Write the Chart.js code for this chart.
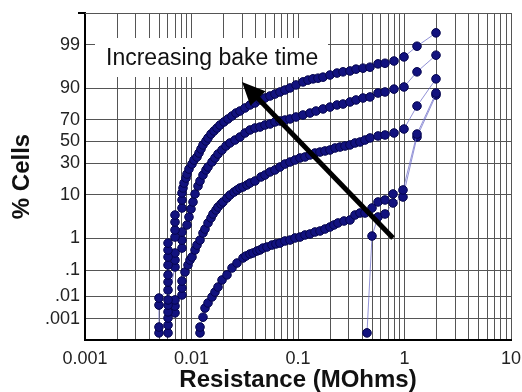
<!DOCTYPE html>
<html>
<head>
<meta charset="utf-8">
<script src="https://cdn.jsdelivr.net/npm/chart.js@4.4.1/dist/chart.umd.min.js"></script>
<style>
html, body { margin: 0; padding: 0; background: #fff; }
#wrap { width: 522px; height: 392px; }
</style>
</head>
<body>
<div id="wrap"><canvas id="c"></canvas></div>
<script>
// [resistance MOhms, cumulative % cells], one list per bake time
const bake1 = [
    [0.00495, 0.00021], [0.00495, 0.00041], [0.00495, 0.0042], [0.00495, 0.0084],
    [0.00602, 0.0178], [0.00602, 0.0366], [0.00602, 0.067], [0.00602, 0.149], [0.00602, 0.275], [0.00602, 0.455], [0.00602, 0.73],
    [0.0070, 1.08], [0.0070, 1.67], [0.0070, 2.65], [0.0070, 3.86],
    [0.00814, 5.49], [0.00814, 7.99], [0.00814, 10.8],
    [0.00832, 13.2], [0.00851, 15.9], [0.00888, 19.0], [0.00907, 21.7], [0.00947, 25.4], [0.01011, 29.4],
    [0.01056, 32.8], [0.01126, 35.5], [0.01176, 39.1], [0.01228, 42.9], [0.01282, 46.7], [0.01368, 50.5],
    [0.01429, 53.4], [0.01524, 57.1], [0.01627, 60.0], [0.01736, 62.7], [0.01852, 65.4], [0.02019, 68.1],
    [0.02202, 70.6], [0.02401, 73.0], [0.02617, 75.3], [0.02853, 76.8], [0.03179, 79.0], [0.03541, 81.0],
    [0.03947, 82.3], [0.04396, 84.1], [0.04898, 85.2], [0.05458, 86.3], [0.06081, 87.3], [0.06776, 88.3],
    [0.07548, 89.2], [0.08411, 90.1], [0.09578, 91.3], [0.1114, 92.4], [0.1241, 93.0], [0.1383, 93.4],
    [0.1541, 93.6], [0.1717, 93.9], [0.1997, 94.5], [0.2323, 95.0], [0.2646, 95.3], [0.3078, 95.5],
    [0.3505, 95.9], [0.4077, 96.1], [0.4744, 96.3], [0.5638, 96.9], [0.6559, 97.0], [0.7969, 97.35],
    [0.9892, 97.9], [1.31, 98.9], [1.976, 99.55]
];
const bake2 = [
    [0.00602, 0.00021], [0.00602, 0.00051], [0.00602, 0.0011], [0.00602, 0.0021], [0.00602, 0.0042], [0.00602, 0.0070],
    [0.0070, 0.128], [0.0070, 0.219], [0.0070, 0.368],
    [0.00814, 0.52], [0.00814, 0.89], [0.00814, 1.48],
    [0.00907, 2.24], [0.00947, 3.48], [0.00989, 5.23], [0.01033, 7.30], [0.01079, 10.35], [0.01151, 14.2],
    [0.01202, 17.1], [0.01282, 21.0], [0.01368, 24.7], [0.01429, 27.0], [0.01558, 31.1], [0.01662, 34.6],
    [0.01774, 38.2], [0.01934, 41.9], [0.02108, 45.7], [0.02299, 48.6], [0.02561, 51.4], [0.02853, 54.3],
    [0.03179, 58.1], [0.03541, 60.9], [0.03947, 62.7], [0.04396, 63.6], [0.04898, 65.4], [0.05458, 66.3],
    [0.06081, 68.1], [0.06776, 68.9], [0.07548, 69.7], [0.08411, 70.6], [0.09578, 72.2], [0.1114, 73.8],
    [0.1296, 75.3], [0.1476, 76.8], [0.1717, 78.3], [0.1997, 79.6], [0.2323, 81.0], [0.2646, 81.6],
    [0.3078, 82.9], [0.3505, 84.1], [0.4077, 85.2], [0.4744, 85.8], [0.5638, 87.8], [0.6559, 88.3],
    [0.7969, 89.6], [0.9892, 90.5], [1.31, 95.3], [1.976, 98.1]
];
const bake3 = [
    [0.0070, 0.0019], [0.0070, 0.0038], [0.0070, 0.0070], [0.00814, 0.0112], [0.00814, 0.0214], [0.00814, 0.040],
    [0.00869, 0.085], [0.00927, 0.149], [0.00968, 0.219], [0.01011, 0.275], [0.01079, 0.455], [0.01126, 0.64],
    [0.01202, 0.89], [0.01282, 1.39], [0.01339, 1.77], [0.01429, 2.51], [0.01524, 3.30], [0.01592, 4.07],
    [0.01699, 4.98], [0.01774, 5.76], [0.01893, 6.66], [0.01976, 7.30], [0.02154, 8.72], [0.02299, 9.92],
    [0.02507, 11.2], [0.02675, 12.2], [0.02853, 13.2], [0.03045, 13.7], [0.03319, 14.8], [0.03541, 15.9],
    [0.03947, 17.1], [0.04493, 19.7], [0.04898, 21.0], [0.05458, 23.2], [0.06081, 24.7], [0.06776, 27.0],
    [0.07548, 29.4], [0.08411, 31.1], [0.09372, 32.8], [0.1044, 34.6], [0.1163, 35.5], [0.1296, 37.3],
    [0.1444, 39.1], [0.1609, 40.0], [0.1793, 41.0], [0.1997, 41.9], [0.2225, 43.8], [0.2479, 44.7],
    [0.2763, 45.7], [0.3078, 46.7], [0.3430, 48.6], [0.3822, 49.5], [0.4257, 51.4], [0.4744, 53.4],
    [0.5638, 55.3], [0.6559, 56.2], [0.7969, 58.1], [0.9892, 61.8], [1.31, 80.3], [1.976, 93.4]
];
const bake4 = [
    [0.01202, 0.00021], [0.01202, 0.00041], [0.01282, 0.0012], [0.01339, 0.0031], [0.01429, 0.0052], [0.01558, 0.0093],
    [0.01662, 0.0148], [0.01774, 0.0234], [0.01934, 0.0436], [0.02154, 0.067], [0.02401, 0.118], [0.02675, 0.174],
    [0.03045, 0.255], [0.03248, 0.296], [0.03541, 0.343], [0.0378, 0.368], [0.04121, 0.424], [0.04396, 0.455],
    [0.04691, 0.52], [0.05114, 0.56], [0.05699, 0.64], [0.06213, 0.69], [0.06776, 0.73], [0.07548, 0.84],
    [0.08411, 0.89], [0.09372, 1.02], [0.1044, 1.08], [0.1163, 1.23], [0.1296, 1.31], [0.1444, 1.48],
    [0.1609, 1.57], [0.1793, 1.77], [0.1997, 1.99], [0.2178, 2.24], [0.2374, 2.51], [0.2704, 2.80],
    [0.3078, 2.96], [0.343, 3.86], [0.3822, 4.28], [0.4257, 4.28], [0.4953, 5.49], [0.5638, 7.30],
    [0.6559, 7.99], [0.7798, 10.35], [0.9681, 12.2], [1.31, 57.1], [1.976, 87.8]
];
const bake5 = [
    [0.4444, 0.00021], [0.4953, 1.15], [0.5638, 3.48], [0.6559, 4.07], [0.7798, 6.97], [0.9681, 9.11],
    [1.31, 54.3], [1.976, 86.8]
];
const allSeries = [bake1, bake2, bake3, bake4, bake5];

const xDecades = [0.001, 0.01, 0.1, 1, 10];
const xDecadeText = ['0.001', '0.01', '0.1', '1', '10'];
const yTickPct = [0.001, 0.01, 0.1, 1, 10, 30, 50, 70, 90, 99];
const yTickText = ['.001', '.01', '.1', '1', '10', '30', '50', '70', '90', '99'];

const arrowTail = [0.78, 1.02];
const arrowTip = [0.0298, 92.4];
const noteText = 'Increasing bake time';

// normal quantile (Acklam) -> probability axis
function probit(p) {
    const a = [-3.969683028665376e+01, 2.209460984245205e+02, -2.759285104469687e+02, 1.383577518672690e+02, -3.066479806614716e+01, 2.506628277459239e+00];
    const b = [-5.447609879822406e+01, 1.615858368580409e+02, -1.556989798598866e+02, 6.680131188771972e+01, -1.328068155288572e+01];
    const c = [-7.784894002430293e-03, -3.223964580411365e-01, -2.400758277161838e+00, -2.549732539343734e+00, 4.374664141464968e+00, 2.938163982698783e+00];
    const d = [7.784695709041462e-03, 3.224671290700398e-01, 2.445134137142996e+00, 3.754408661907416e+00];
    const pl = 0.02425;
    let q, r;
    if (p < pl) {
        q = Math.sqrt(-2 * Math.log(p));
        return (((((c[0] * q + c[1]) * q + c[2]) * q + c[3]) * q + c[4]) * q + c[5]) / ((((d[0] * q + d[1]) * q + d[2]) * q + d[3]) * q + 1);
    }
    if (p > 1 - pl) {
        q = Math.sqrt(-2 * Math.log(1 - p));
        return -(((((c[0] * q + c[1]) * q + c[2]) * q + c[3]) * q + c[4]) * q + c[5]) / ((((d[0] * q + d[1]) * q + d[2]) * q + d[3]) * q + 1);
    }
    q = p - 0.5;
    r = q * q;
    return (((((a[0] * r + a[1]) * r + a[2]) * r + a[3]) * r + a[4]) * r + a[5]) * q / (((((b[0] * r + b[1]) * r + b[2]) * r + b[3]) * r + b[4]) * r + 1);
}

// grid every 1..9 per decade, labels only on decades
let xGrid = [], xGridText = [];
xDecades.forEach((dec, i) => {
    if (i === xDecades.length - 1) {
        xGrid.push(dec); xGridText.push(xDecadeText[i]);
        return;
    }
    for (let m = 1; m <= 9; m++) {
        xGrid.push(m * dec);
        xGridText.push(m === 1 ? xDecadeText[i] : '');
    }
});

const gridColor = '#555';
const fontFamily = '"Liberation Sans", Arial, sans-serif';

const decorations = {
    id: 'decorations',
    beforeDatasetsDraw(chart) {
        const ctx = chart.ctx, ca = chart.chartArea;
        ctx.save();
        // top frame line
        ctx.strokeStyle = gridColor;
        ctx.lineWidth = 1;
        ctx.beginPath();
        ctx.moveTo(ca.left, ca.top + 0.5);
        ctx.lineTo(ca.right, ca.top + 0.5);
        ctx.stroke();
        ctx.strokeStyle = '#000';
        ctx.lineWidth = 2;
        ctx.beginPath();
        ctx.moveTo(ca.left - 7, ca.top);
        ctx.lineTo(ca.left, ca.top);
        ctx.stroke();
        // note box
        ctx.fillStyle = '#fff';
        ctx.fillRect(ca.left + 10, ca.top + 25, 233, 39);
        ctx.fillStyle = '#111';
        ctx.font = '23px ' + fontFamily;
        ctx.textAlign = 'left';
        ctx.textBaseline = 'alphabetic';
        ctx.fillText(noteText, ca.left + 21, ca.top + 52);
        ctx.restore();
    },
    afterDatasetsDraw(chart) {
        const ctx = chart.ctx, xs = chart.scales.x, ys = chart.scales.y;
        const x1 = xs.getPixelForValue(arrowTail[0]), y1 = ys.getPixelForValue(probit(arrowTail[1] / 100));
        const x2 = xs.getPixelForValue(arrowTip[0]), y2 = ys.getPixelForValue(probit(arrowTip[1] / 100));
        const ang = Math.atan2(y2 - y1, x2 - x1);
        const headLen = 23, headW = 10.5;
        const bx = x2 - headLen * Math.cos(ang), by = y2 - headLen * Math.sin(ang);
        ctx.save();
        ctx.strokeStyle = '#000';
        ctx.fillStyle = '#000';
        ctx.lineWidth = 5;
        ctx.beginPath();
        ctx.moveTo(x1, y1);
        ctx.lineTo(bx + 2 * Math.cos(ang), by + 2 * Math.sin(ang));
        ctx.stroke();
        ctx.beginPath();
        ctx.moveTo(x2, y2);
        ctx.lineTo(bx + headW * Math.sin(ang), by - headW * Math.cos(ang));
        ctx.lineTo(bx - headW * Math.sin(ang), by + headW * Math.cos(ang));
        ctx.closePath();
        ctx.fill();
        ctx.restore();
    },
    afterDraw(chart) {
        const ctx = chart.ctx, ca = chart.chartArea;
        ctx.save();
        ctx.fillStyle = '#111';
        ctx.font = 'bold 24px ' + fontFamily;
        ctx.textAlign = 'center';
        ctx.textBaseline = 'middle';
        ctx.fillText('Resistance (MOhms)', (ca.left + ca.right) / 2, 380);
        ctx.translate(22, (ca.top + ca.bottom) / 2);
        ctx.rotate(-Math.PI / 2);
        ctx.fillText('% Cells', 0, 0);
        ctx.restore();
    }
};

new Chart(document.getElementById('c'), {
    type: 'scatter',
    data: {
        datasets: allSeries.map(s => ({
            data: s.map(pt => ({x: pt[0], y: probit(pt[1] / 100)})),
            showLine: true,
            borderColor: 'rgba(110,110,200,0.75)',
            borderWidth: 1,
            pointRadius: 4.3,
            pointBackgroundColor: '#12127f',
            pointBorderColor: '#05054d',
            pointBorderWidth: 1
        }))
    },
    options: {
        responsive: true,
        maintainAspectRatio: false,
        animation: false,
        layout: {padding: {top: 13, right: 0, left: 0, bottom: 0}},
        plugins: {legend: {display: false}, tooltip: {enabled: false}},
        scales: {
            x: {
                type: 'logarithmic',
                min: 0.001,
                max: 10,
                afterBuildTicks: s => { s.ticks = xGrid.map(v => ({value: v})); },
                afterFit: s => { s.height = 52; s.paddingLeft = 0; s.paddingRight = 11; },
                ticks: {
                    autoSkip: false, maxRotation: 0, padding: 8, color: '#222',
                    font: {size: 18, family: fontFamily},
                    callback: (v, i) => xGridText[i]
                },
                grid: {color: gridColor, lineWidth: 1, drawTicks: false},
                border: {color: '#000', width: 2}
            },
            y: {
                type: 'linear',
                min: -4.772,
                max: 3.089,
                afterBuildTicks: s => { s.ticks = yTickPct.map(p => ({value: probit(p / 100)})); },
                afterFit: s => { s.width = 85; s.paddingTop = 0; s.paddingBottom = 0; },
                ticks: {
                    autoSkip: false, padding: 5, color: '#222',
                    font: {size: 18, family: fontFamily},
                    callback: (v, i) => yTickText[i]
                },
                grid: {color: gridColor, lineWidth: 1, drawTicks: false},
                border: {color: '#000', width: 2}
            }
        }
    },
    plugins: [decorations]
});
</script>
</body>
</html>
